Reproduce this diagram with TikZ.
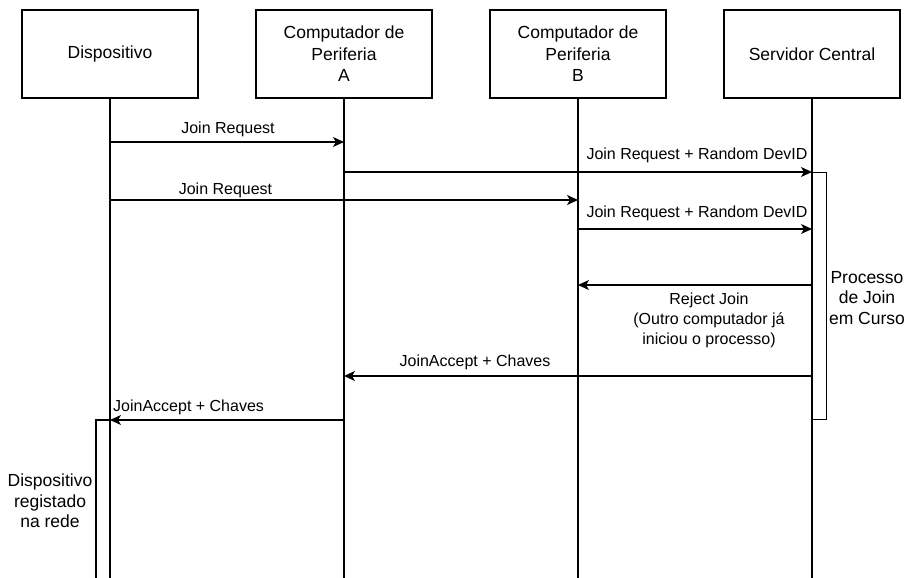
\documentclass[tikz,border=0pt]{standalone}
\usepackage{fontspec}
\setmainfont{Liberation Sans}
\usetikzlibrary{arrows.meta}
\begin{document}
\begin{tikzpicture}[x=1bp,y=-1bp,
  actor/.style={draw, line width=1.1bp, minimum width=176bp, minimum height=88bp,
    align=center, inner sep=0pt, font=\fontsize{17.5bp}{21.5bp}\selectfont},
  life/.style={line width=1.1bp},
  msg/.style={line width=1.1bp, -{Stealth[length=11bp,width=10bp,inset=3bp]}},
  lbl/.style={inner sep=0pt, align=center, font=\fontsize{16bp}{20bp}\selectfont},
  note/.style={inner sep=0pt, align=center, font=\fontsize{17.5bp}{20.5bp}\selectfont},
  act/.style={draw, fill=white, line width=1.1bp, inner sep=0pt}
]
\useasboundingbox (0,0) rectangle (910,578);

% participants
\node[actor] (disp)  at (110,54) {Dispositivo};
\node[actor] (compA) at (344,54) {Computador de\\Periferia\\A};
\node[actor] (compB) at (578,54) {Computador de\\Periferia\\B};
\node[actor] (serv)  at (812,54) {Servidor Central};

% bottom edge and message levels
\coordinate (bottom) at (0,578);
\coordinate (m1) at (0,142);
\coordinate (m2) at (0,172);
\coordinate (m3) at (0,200);
\coordinate (m4) at (0,229);
\coordinate (m5) at (0,285);
\coordinate (m6) at (0,376);
\coordinate (m7) at (0,420);

% lifelines
\draw[life] (disp.south)  -- (disp.south |- bottom);
\draw[life] (compA.south) -- (compA.south |- bottom);
\draw[life] (compB.south) -- (compB.south |- bottom);
\draw[life] (serv.south)  -- (serv.south |- bottom);

% activation bars
\node[act, anchor=north west, minimum width=14bp, minimum height=247bp] (servAct) at (812,172) {};
\draw[life, fill=white] (disp.south |- bottom) ++(0,2) -- ++(-14,0) |- (disp.south |- m7) -- (disp.south |- bottom);

% messages
\draw[msg] (disp.south |- m1)  -- (compA.south |- m1);
\draw[msg] (compA.south |- m2) -- (serv.south |- m2);
\draw[msg] (disp.south |- m3)  -- (compB.south |- m3);
\draw[msg] (compB.south |- m4) -- (serv.south |- m4);
\draw[msg] (serv.south |- m5)  -- (compB.south |- m5);
\draw[msg] (serv.south |- m6)  -- (compA.south |- m6);
\draw[msg] (compA.south |- m7) -- (disp.south |- m7);

% message labels
\node[lbl] (l1) at (228,129) {Join Request};
\node[lbl] (l2) at (697,155) {Join Request + Random DevID};
\node[lbl] (l3) at (225.5,190) {Join Request};
\node[lbl] (l4) at (697,213) {Join Request + Random DevID};
\node[lbl] (l5) at (709,320) {Reject Join\\(Outro computador já\\iniciou o processo)};
\node[lbl] (l6) at (475,362) {JoinAccept + Chaves};
\node[lbl, anchor=west] (l7) at (113,407) {JoinAccept + Chaves};

% notes beside the activation bars
\node[note] (n1) at (867,298) {Processo\\de Join\\em Curso};
\node[note] (n2) at (50,501) {Dispositivo\\registado\\na rede};
\end{tikzpicture}
\end{document}
